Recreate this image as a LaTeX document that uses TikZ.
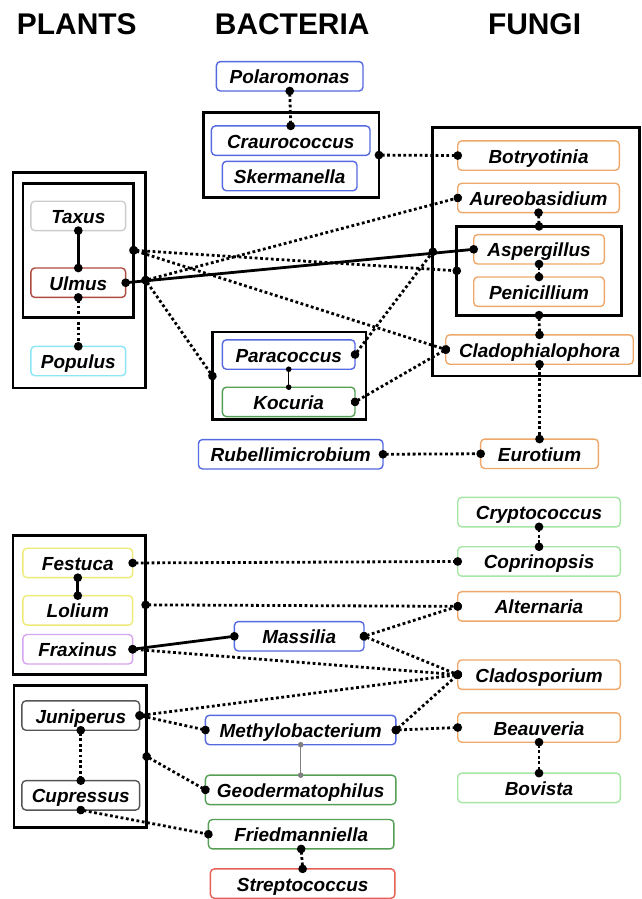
\documentclass[tikz,border=0pt]{standalone}
\usepackage{fontspec}
\setmainfont{Liberation Sans}
\usetikzlibrary{arrows.meta}

\definecolor{bacblue}{RGB}{85,105,225}
\definecolor{bacgreen}{RGB}{85,160,85}
\definecolor{bacred}{RGB}{230,95,85}
\definecolor{funorange}{RGB}{238,168,105}
\definecolor{fungreen}{RGB}{165,230,165}
\definecolor{plagray}{RGB}{205,205,205}
\definecolor{plared}{RGB}{175,75,65}
\definecolor{placyan}{RGB}{140,230,245}
\definecolor{playellow}{RGB}{238,235,120}
\definecolor{plaviolet}{RGB}{215,165,240}
\definecolor{pladark}{RGB}{85,85,85}

\newcommand{\taxfont}{\fontsize{19}{21}\selectfont\bfseries\itshape}
\newcommand{\headfont}{\fontsize{30}{32}\selectfont\bfseries}

\begin{document}
\begin{tikzpicture}[x=1pt, y=-1pt,
  taxon/.style={draw=#1, rounded corners=4pt, line width=1.4pt, minimum height=29.5pt,
    text height=17pt, text depth=2pt, inner sep=0pt, outer sep=0pt, font=\taxfont},
  grp/.style={draw, line width=2.8pt, inner sep=0pt, outer sep=0pt},
  head/.style={font=\headfont},
  dotlink/.style={line width=2.8pt, dash pattern=on 2.8pt off 2.6pt,
    {Circle[length=8.5pt]}-{Circle[length=8.5pt]}, shorten <=-4.25pt, shorten >=-4.25pt},
  solidlink/.style={line width=2.8pt,
    {Circle[length=8.5pt]}-{Circle[length=8.5pt]}, shorten <=-4.25pt, shorten >=-4.25pt},
  thinlink/.style={line width=1.4pt,
    {Circle[length=5.5pt]}-{Circle[length=5.5pt]}, shorten <=-2.75pt, shorten >=-2.75pt}]

  \path[fill=white] (0,0) rectangle (643,899);

  % column heads
  \node[head] (hplants) at (77,24) {PLANTS};
  \node[head] (hbact) at (293,24) {BACTERIA};
  \node[head] (hfungi) at (536,24) {FUNGI};

  % group frames
  \node[grp, minimum width=176pt, minimum height=85pt] (bacgrp) at (292,155.5) {};
  \node[grp, minimum width=207pt, minimum height=249pt] (fungrp) at (537.5,252.5) {};
  \node[grp, minimum width=165pt, minimum height=89pt] (fungin) at (540.5,271.5) {};
  \node[grp, minimum width=133pt, minimum height=216pt] (plagrp) at (79.5,281) {};
  \node[grp, minimum width=111pt, minimum height=134pt] (plain) at (78.5,251) {};
  \node[grp, minimum width=154pt, minimum height=88pt] (pcgrp) at (290,377) {};
  \node[grp, minimum width=133pt, minimum height=139pt] (plagrpb) at (79.5,606.5) {};
  \node[grp, minimum width=133pt, minimum height=143pt] (plagrpc) at (80.5,758.5) {};

  % bacteria
  \node[taxon=bacblue, minimum width=147pt] (polaro) at (290.5,76.5) {Polaromonas};
  \node[taxon=bacblue, minimum width=159pt] (crauro) at (291.5,141) {Craurococcus};
  \node[taxon=bacblue, minimum width=135pt] (skerm) at (290.5,176.5) {Skermanella};
  \node[taxon=bacblue, minimum width=133pt] (para) at (289.5,355.5) {Paracoccus};
  \node[taxon=bacgreen, minimum width=133pt] (kocu) at (289.5,403) {Kocuria};
  \node[taxon=bacblue, minimum width=185pt] (rubel) at (291.5,455.5) {Rubellimicrobium};
  \node[taxon=bacblue, minimum width=130pt] (massil) at (300,638) {Massilia};
  \node[taxon=bacblue, minimum width=191pt] (methyl) at (301.5,732) {Methylobacterium};
  \node[taxon=bacgreen, minimum width=191pt] (geoder) at (301.5,792) {Geodermatophilus};
  \node[taxon=bacgreen, minimum width=186pt] (fried) at (302,836.5) {Friedmanniella};
  \node[taxon=bacred, minimum width=185pt] (strepto) at (303.5,886) {Streptococcus};

  % fungi
  \node[taxon=funorange, minimum width=162pt] (botry) at (540,156) {Botryotinia};
  \node[taxon=funorange, minimum width=162pt] (aureo) at (540,198.5) {Aureobasidium};
  \node[taxon=funorange, minimum width=131pt] (asper) at (540.5,250) {Aspergillus};
  \node[taxon=funorange, minimum width=131pt] (penic) at (540.5,292.5) {Penicillium};
  \node[taxon=funorange, minimum width=188pt] (cladoph) at (541,350.5) {Cladophialophora};
  \node[taxon=funorange, minimum width=118pt] (eurot) at (541,455) {Eurotium};
  \node[taxon=fungreen, minimum width=163pt] (crypto) at (540.5,513.5) {Cryptococcus};
  \node[taxon=fungreen, minimum width=163pt] (coprin) at (540.5,563) {Coprinopsis};
  \node[taxon=funorange, minimum width=163pt] (altern) at (540.5,608) {Alternaria};
  \node[taxon=funorange, minimum width=163pt] (cladsp) at (540.5,676.5) {Cladosporium};
  \node[taxon=funorange, minimum width=163pt] (beauv) at (540.5,729.5) {Beauveria};
  \node[taxon=fungreen, minimum width=163pt] (bovis) at (540.5,790) {Bovista};

  % plants
  \node[taxon=plagray, minimum width=95pt] (taxus) at (78.5,216.5) {Taxus};
  \node[taxon=plared, minimum width=95pt] (ulmus) at (78.5,283.5) {Ulmus};
  \node[taxon=placyan, minimum width=95pt] (popul) at (78.5,362) {Populus};
  \node[taxon=playellow, minimum width=110pt] (festu) at (78,564.5) {Festuca};
  \node[taxon=playellow, minimum width=110pt] (loliu) at (78,612) {Lolium};
  \node[taxon=plaviolet, minimum width=110pt] (fraxi) at (78,651) {Fraxinus};
  \node[taxon=pladark, minimum width=118pt] (junip) at (81,717.5) {Juniperus};
  \node[taxon=pladark, minimum width=118pt] (cupre) at (81,797.5) {Cupressus};

  % links, upper part
  \draw[dotlink] (polaro.south) -- (crauro.north);
  \draw[dotlink] (bacgrp.east) -- (botry.west);
  \draw[dotlink] (aureo.south) -- (fungin.north);
  \draw[dotlink] (asper.south) -- (penic.north);
  \draw[dotlink] (fungin.south) -- (cladoph.north);
  \draw[dotlink] (cladoph.south) -- (eurot.north);
  \draw[dotlink] (rubel.east) -- (eurot.west);
  \draw[solidlink] (taxus.south) -- (ulmus.north);
  \draw[dotlink] (ulmus.south) -- (popul.north);
  \draw[dotlink] (plain.east) -- (fungin.west);
  \draw[dotlink] (plain.east) -- (cladoph.west);
  \draw[dotlink] (plagrp.east) -- (aureo.west);
  \draw[dotlink] (plagrp.east) -- (pcgrp.west);
  \draw[dotlink] (para.east) -- (fungrp.west);
  \draw[dotlink] (kocu.east) -- (cladoph.west);
  \draw[thinlink] (para.south) -- (kocu.north);
  \draw[solidlink] (ulmus.east) -- (asper.west);

  % links, lower part
  \draw[dotlink] (festu.east) -- (coprin.west);
  \draw[solidlink] (festu.south) -- (loliu.north);
  \draw[dotlink] (plagrpb.east) -- (altern.west);
  \draw[dotlink] (fraxi.east) -- (cladsp.west);
  \draw[solidlink] (fraxi.east) -- (massil.west);
  \draw[dotlink] (massil.east) -- (altern.west);
  \draw[dotlink] (massil.east) -- (cladsp.west);
  \draw[dotlink] (junip.east) -- (cladsp.west);
  \draw[dotlink] (junip.east) -- (methyl.west);
  \draw[dotlink] (methyl.east) -- (cladsp.west);
  \draw[dotlink] (methyl.east) -- (beauv.west);
  \draw[thinlink, line width=0.8pt, gray] (methyl.south) -- (geoder.north);
  \draw[dotlink] (plagrpc.east) -- (geoder.west);
  \draw[dotlink] (junip.south) -- (cupre.north);
  \draw[dotlink] (cupre.south) -- (fried.west);
  \draw[dotlink] (fried.south) -- (strepto.north);
  \draw[dotlink] (crypto.south) -- (coprin.north);
  \draw[dotlink] (beauv.south) -- (bovis.north);

\end{tikzpicture}
\end{document}
